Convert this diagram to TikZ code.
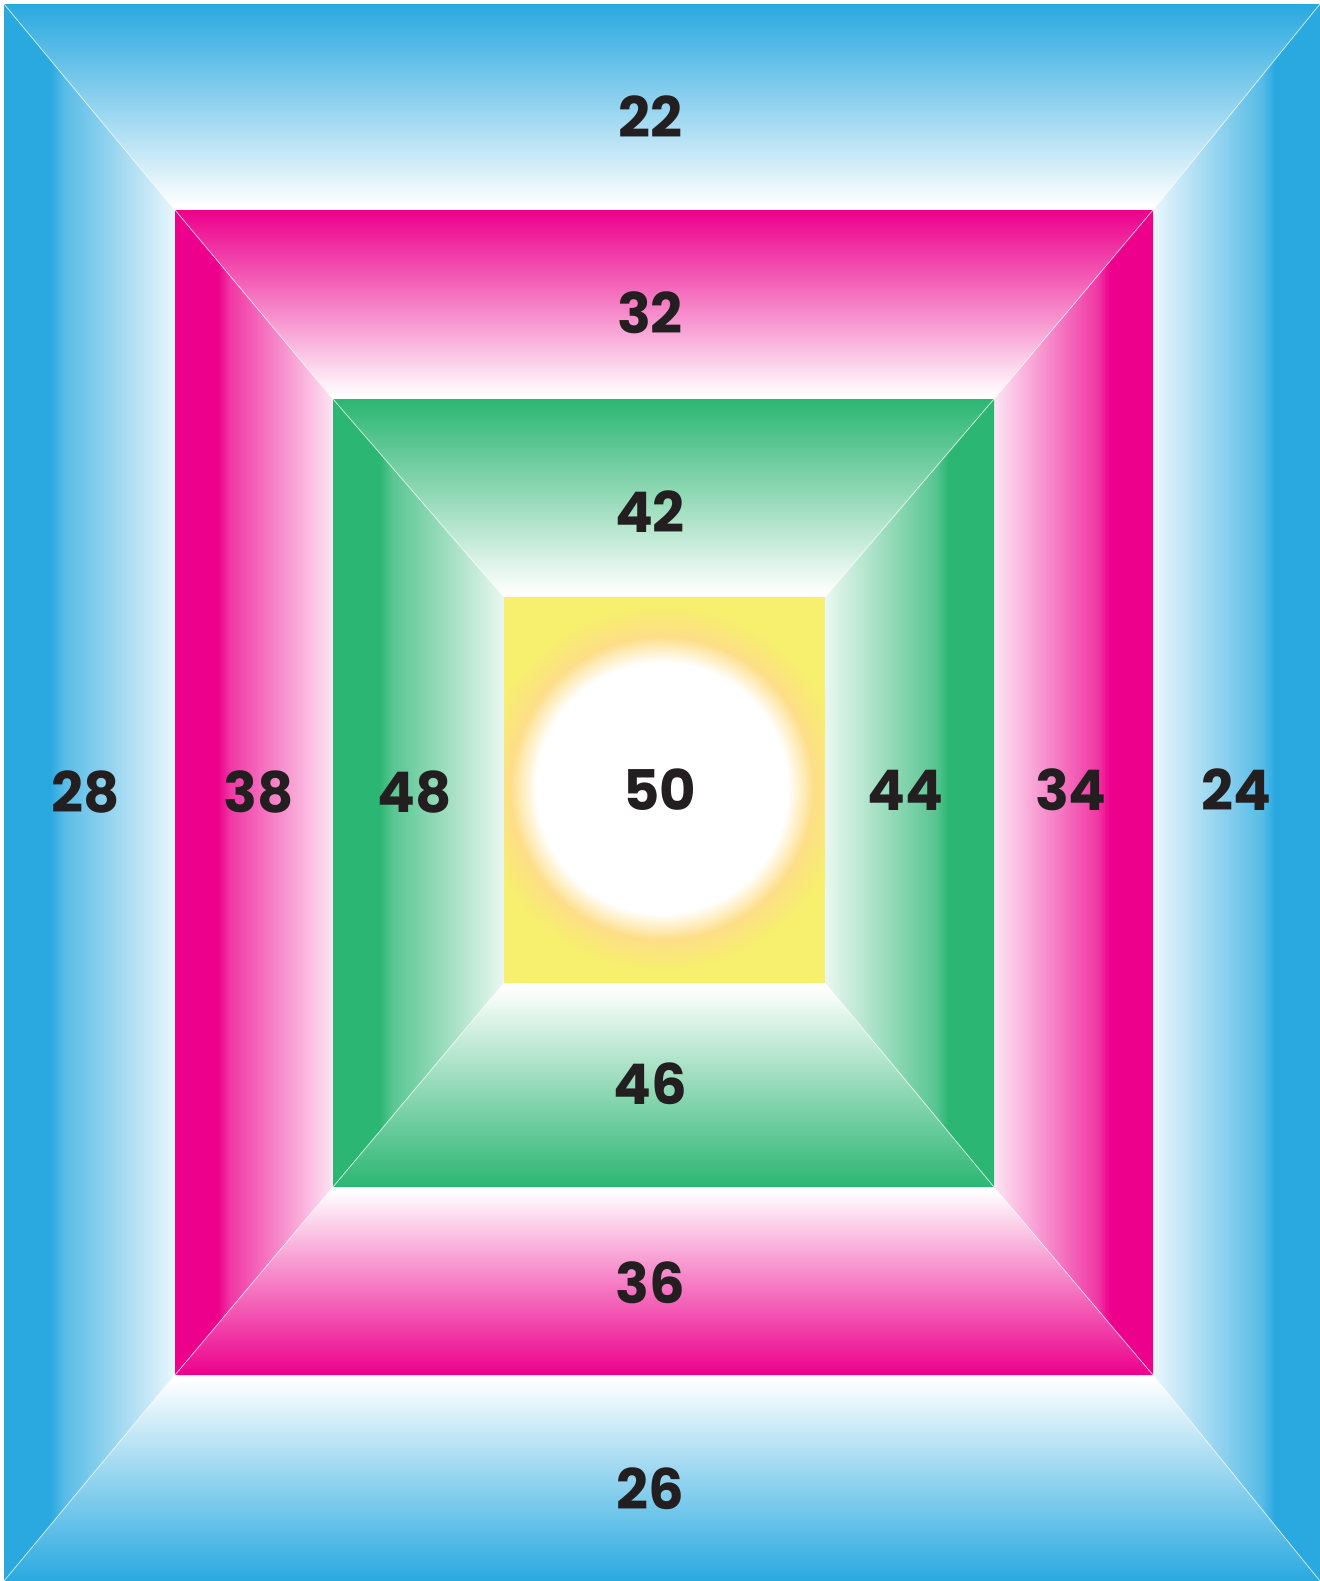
\documentclass[tikz,border=0pt]{standalone}
\usepackage{fontspec}
\setmainfont{Poppins}
\definecolor{cblue}{RGB}{41,169,224}
\definecolor{cpink}{RGB}{236,0,140}
\definecolor{cgreen}{RGB}{43,182,115}
\definecolor{cyellow}{RGB}{247,239,110}
\definecolor{cring}{RGB}{253,222,135}
\definecolor{ctext}{RGB}{35,31,32}
\colorlet{cbluemid}{cblue!50!white}
\colorlet{cpinkmid}{cpink!50!white}
\colorlet{cgreenmid}{cgreen!50!white}
\colorlet{cbluestep}{cblue!78!white}
\colorlet{cpinkstep}{cpink!78!white}
\colorlet{cgreenstep}{cgreen!78!white}
\colorlet{cblueedge}{cblue!10!white}
\colorlet{cpinkedge}{cpink!10!white}
\colorlet{cgreenedge}{cgreen!10!white}
\newcommand\mkshades[2]{%
 \pgfdeclarehorizontalshading{#1L}{100bp}{color(0bp)=(#2); color(38.5bp)=(#2); color(42.5bp)=(#2step); color(75bp)=(#2edge); color(100bp)=(#2edge)}%
 \pgfdeclarehorizontalshading{#1R}{100bp}{color(0bp)=(#2edge); color(25bp)=(#2edge); color(57.5bp)=(#2step); color(61.5bp)=(#2); color(100bp)=(#2)}%
 \pgfdeclareverticalshading{#1T}{100bp}{color(0bp)=(white); color(26bp)=(white); color(50bp)=(#2mid); color(75bp)=(#2); color(100bp)=(#2)}%
 \pgfdeclareverticalshading{#1B}{100bp}{color(0bp)=(#2); color(25bp)=(#2); color(50bp)=(#2mid); color(74bp)=(white); color(100bp)=(white)}%
}
\mkshades{bl}{cblue}
\mkshades{pk}{cpink}
\mkshades{gr}{cgreen}
\pgfdeclareradialshading{sun}{\pgfpointorigin}{color(0bp)=(white); color(16.5bp)=(white); color(20bp)=(cring); color(24bp)=(cyellow); color(50bp)=(cyellow)}
\newcommand\frameband[9]{%
 \shade[shading=#1T] (#2,#3) -- (#4,#3) -- (#8,#7) -- (#6,#7) -- cycle;
 \shade[shading=#1B] (#2,#5) -- (#4,#5) -- (#8,#9) -- (#6,#9) -- cycle;
 \shade[shading=#1L] (#2,#3) -- (#6,#7) -- (#6,#9) -- (#2,#5) -- cycle;
 \shade[shading=#1R] (#4,#3) -- (#8,#7) -- (#8,#9) -- (#4,#5) -- cycle;
 \draw[seam] (#2,#3) -- (#6,#7) (#4,#3) -- (#8,#7) (#2,#5) -- (#6,#9) (#4,#5) -- (#8,#9);
}
\begin{document}
\begin{tikzpicture}[x=0.5pt,y=-0.5pt,
  seam/.style={white,opacity=0.7,line width=0.4pt},
  lbl/.style={text=ctext,font=\bfseries\fontsize{28}{30}\selectfont,inner sep=0pt}]
\useasboundingbox (0,0) rectangle (1320,1581);
\fill[white] (0,0) rectangle (1320,1581);
\frameband{bl}{4}{4}{1320}{1581}{175}{210}{1153}{1375}
\frameband{pk}{175}{210}{1153}{1375}{333}{399}{994}{1187}
\frameband{gr}{333}{399}{994}{1187}{504}{597}{825}{983}
\fill[cyellow] (504,597) rectangle (825,983);
\begin{scope}
 \clip (504,597) rectangle (825,983);
 \shade[shading=sun] (662,788) circle (95pt);
\end{scope}
\node[lbl] (n22) at (650,117) {22};
\node[lbl] (n32) at (650,313) {32};
\node[lbl] (n42) at (650,512) {42};
\node[lbl] (n50) at (660,790) {50};
\node[lbl] (n46) at (650,1084) {46};
\node[lbl] (n36) at (650,1283) {36};
\node[lbl] (n26) at (650,1489) {26};
\node[lbl] (n28) at (86,792) {28};
\node[lbl] (n38) at (259,792) {38};
\node[lbl] (n48) at (415,792) {48};
\node[lbl] (n44) at (905,790) {44};
\node[lbl] (n34) at (1071,790) {34};
\node[lbl] (n24) at (1236,790) {24};
\end{tikzpicture}
\end{document}
